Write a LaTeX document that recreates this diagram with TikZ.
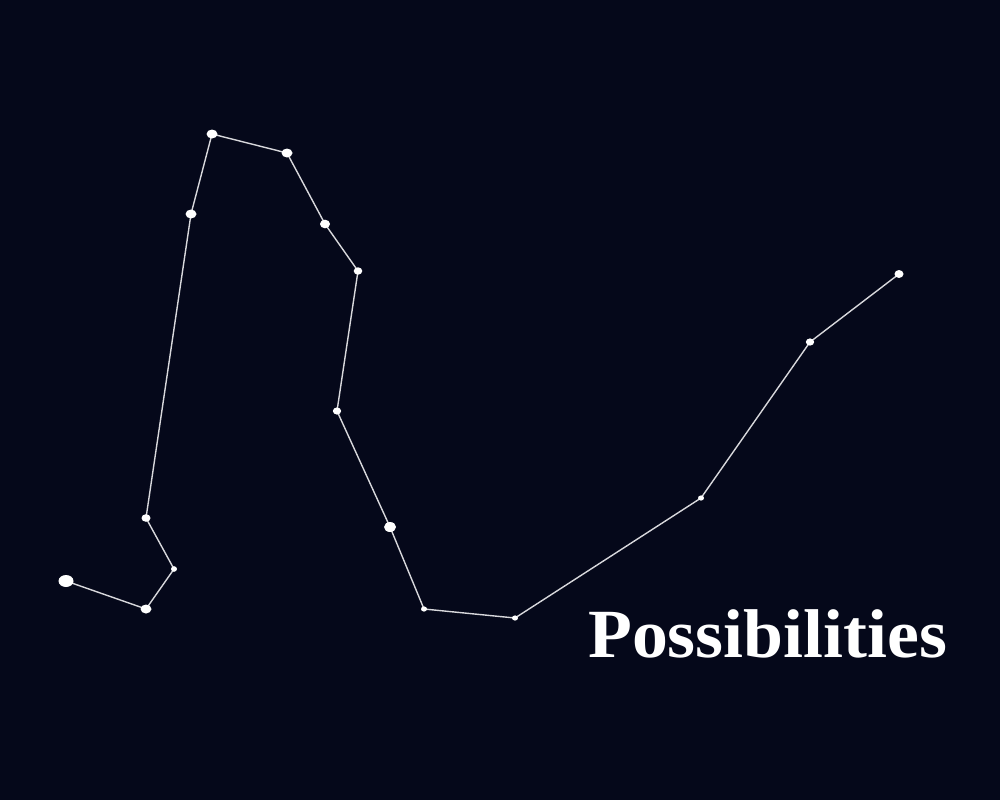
\documentclass[tikz,border=0pt]{standalone}
\usepackage{fontspec}
\setmainfont{Liberation Serif}
\definecolor{bg}{HTML}{05081A}
\definecolor{ln}{HTML}{D8D8DC}
\begin{document}
\begin{tikzpicture}[x=1pt,y=-1pt,
  link/.style={draw=ln,line width=1.4pt}]
\fill[bg] (0,0) rectangle (1000,800);
\useasboundingbox (0,0) rectangle (1000,800);
\coordinate (s1) at (66,581);
\coordinate (s2) at (146,609);
\coordinate (s3) at (174,569);
\coordinate (s4) at (146,518);
\coordinate (s5) at (191,214);
\coordinate (s6) at (212,134);
\coordinate (s7) at (287,153);
\coordinate (s8) at (325,224);
\coordinate (s9) at (358,271);
\coordinate (s10) at (337,411);
\coordinate (s11) at (390,527);
\coordinate (s12) at (424,609);
\coordinate (s13) at (515,618);
\coordinate (s14) at (701,498);
\coordinate (s15) at (810,342);
\coordinate (s16) at (899,274);
\draw[link] (s1)--(s2)--(s3)--(s4)--(s5)--(s6)--(s7)--(s8)--(s9)--(s10)--(s11)--(s12)--(s13)--(s14)--(s15)--(s16);
\fill[white] (s1) ellipse [x radius=7.5,y radius=6];
\fill[white] (s2) ellipse [x radius=5.5,y radius=4.5];
\fill[white] (s3) ellipse [x radius=3,y radius=2.8];
\fill[white] (s4) ellipse [x radius=4.5,y radius=3.8];
\fill[white] (s5) ellipse [x radius=5.5,y radius=4.5];
\fill[white] (s6) ellipse [x radius=5.5,y radius=4.5];
\fill[white] (s7) ellipse [x radius=5.5,y radius=4.5];
\fill[white] (s8) ellipse [x radius=5,y radius=4.3];
\fill[white] (s9) ellipse [x radius=4.3,y radius=3.7];
\fill[white] (s10) ellipse [x radius=4.2,y radius=3.6];
\fill[white] (s11) ellipse [x radius=6,y radius=5];
\fill[white] (s12) ellipse [x radius=3,y radius=2.6];
\fill[white] (s13) ellipse [x radius=3,y radius=2.6];
\fill[white] (s14) ellipse [x radius=3,y radius=2.6];
\fill[white] (s15) ellipse [x radius=4.2,y radius=3.6];
\fill[white] (s16) ellipse [x radius=4.5,y radius=4];
\node[anchor=base west,inner sep=0pt,text=white,font=\fontsize{69}{80}\selectfont\bfseries,xscale=1.04] (title) at (588,657) {Possibilities};
\end{tikzpicture}
\end{document}
